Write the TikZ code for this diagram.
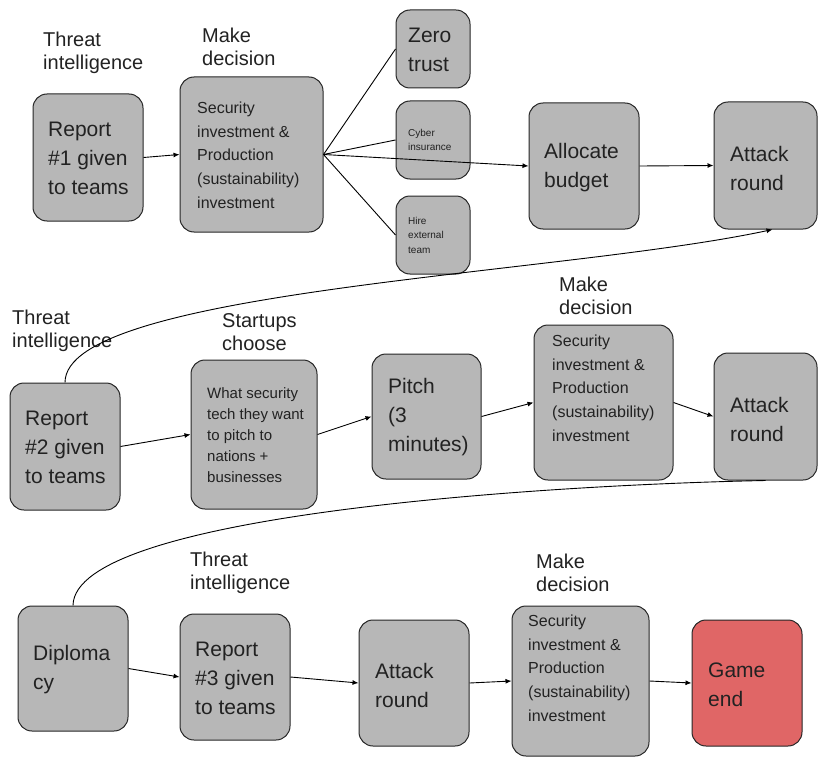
\documentclass[tikz,border=0pt]{standalone}
\usepackage{fontspec}
\setmainfont{Liberation Sans}
\usetikzlibrary{arrows.meta,calc}
\definecolor{boxgray}{HTML}{B7B7B7}
\definecolor{endred}{HTML}{E06666}
\definecolor{ink}{HTML}{222222}
\begin{document}
\begin{tikzpicture}[x=1pt,y=-1pt,
  box/.style={draw=black!85, line width=1pt, fill=boxgray, rounded corners=14pt, inner sep=0pt},
  txt/.style={anchor=west, align=left, inner sep=0pt, text=ink},
  tbig/.style={txt, font=\fontsize{21pt}{29pt}\selectfont},
  tmid/.style={txt, font=\fontsize{16pt}{23.7pt}\selectfont},
  tst/.style={txt, font=\fontsize{15pt}{21pt}\selectfont},
  tsm/.style={txt, font=\fontsize{10pt}{14.5pt}\selectfont},
  tlab/.style={txt, font=\fontsize{20pt}{23.5pt}\selectfont},
  conn/.style={draw=black, line width=0.9pt, -{Latex[length=6pt,width=5pt]}},
  plain/.style={draw=black, line width=0.9pt},
]
\useasboundingbox (0,0) rectangle (818,757);

% ---- row 1 boxes
\node[box, minimum width=110pt, minimum height=127pt] (r1) at (88,157.5) {};
\node[box, minimum width=143pt, minimum height=155pt] (dec1) at (251.5,154.5) {};
\node[box, minimum width=74pt, minimum height=78pt] (zero) at (433,49) {};
\node[box, minimum width=74pt, minimum height=78pt] (cyber) at (433,140) {};
\node[box, minimum width=74pt, minimum height=78pt] (hire) at (433,235) {};
\node[box, minimum width=110pt, minimum height=126pt] (alloc) at (584,166) {};
\node[box, minimum width=103pt, minimum height=127pt] (att1) at (765.5,165.5) {};

% ---- row 2 boxes
\node[box, minimum width=110pt, minimum height=127pt] (r2) at (65,446.5) {};
\node[box, minimum width=126pt, minimum height=149pt] (start) at (254,434.5) {};
\node[box, minimum width=109pt, minimum height=125pt] (pitch) at (426.5,416.5) {};
\node[box, minimum width=139pt, minimum height=155pt] (dec2) at (603.5,402.5) {};
\node[box, minimum width=103pt, minimum height=127pt] (att2) at (765.5,416.5) {};

% ---- row 3 boxes
\node[box, minimum width=110pt, minimum height=125pt] (dipl) at (73,668.5) {};
\node[box, minimum width=110pt, minimum height=126pt] (r3) at (235,677) {};
\node[box, minimum width=110pt, minimum height=126pt] (att3) at (414,683) {};
\node[box, minimum width=137pt, minimum height=150pt] (dec3) at (580.5,681) {};
\node[box, fill=endred, minimum width=110pt, minimum height=126pt] (gend) at (747,683) {};

% ---- box texts
\node[tbig] (r1t) at (48,158) {Report\\\#1 given\\to teams};
\node[tmid] (dec1t) at (197,155) {Security\\investment \&\\Production\\(sustainability)\\investment};
\node[tbig] (zerot) at (408,49.5) {Zero\\trust};
\node[tsm] (cybert) at (408,140) {Cyber\\insurance};
\node[tsm] (hiret) at (408,235) {Hire\\external\\team};
\node[tbig] (alloct) at (544,168) {Allocate\\budget};
\node[tbig] (att1t) at (730,168) {Attack\\round};

\node[tbig] (r2t) at (25,447) {Report\\\#2 given\\to teams};
\node[tst] (startt) at (207,435) {What security\\tech they want\\to pitch to\\nations +\\businesses};
\node[tbig] (pitcht) at (388,417) {Pitch\\(3\\minutes)};
\node[tmid] (dec2t) at (552,388) {Security\\investment \&\\Production\\(sustainability)\\investment};
\node[tbig] (att2t) at (730,419) {Attack\\round};

\node[tbig] (diplt) at (33,670) {Diploma\\cy};
\node[tbig] (r3t) at (195,678) {Report\\\#3 given\\to teams};
\node[tbig] (att3t) at (375,685) {Attack\\round};
\node[tmid] (dec3t) at (528,668) {Security\\investment \&\\Production\\(sustainability)\\investment};
\node[tbig] (gendt) at (708,685) {Game\\end};

% ---- labels
\node[tlab] (ti1) at (43,53) {Threat\\intelligence};
\node[tlab] (md1) at (202,47) {Make\\decision};
\node[tlab] (ti2) at (12,331) {Threat\\intelligence};
\node[tlab] (sc) at (222,332) {Startups\\choose};
\node[tlab] (md2) at (559,296) {Make\\decision};
\node[tlab] (ti3) at (190,573) {Threat\\intelligence};
\node[tlab] (md3) at (536,573) {Make\\decision};

% ---- connectors row 1
\draw[conn] (r1.east) -- (dec1.west);
\draw[plain] (dec1.east) -- (zero.west);
\draw[plain] (dec1.east) -- (cyber.west);
\draw[plain] (dec1.east) -- (hire.west);
\draw[conn] (dec1.east) -- (alloc.west);
\draw[conn] (alloc.east) -- (att1.west);

% ---- connectors row 2
\draw[conn] (r2.east) -- (start.west);
\draw[conn] (start.east) -- (pitch.west);
\draw[conn] (pitch.east) -- (dec2.west);
\draw[conn] (dec2.east) -- (att2.west);

% ---- connectors row 3
\draw[conn] (dipl.east) -- (r3.west);
\draw[conn] (r3.east) -- (att3.west);
\draw[conn] (att3.east) -- (dec3.west);
\draw[conn] (dec3.east) -- (gend.west);

% ---- curved links between rows
\draw[conn] (r2.north) .. controls (65,290) and (560,275) .. ([xshift=7pt]att1.south);
\draw[plain] (dipl.north) .. controls (74,515) and (540,485) .. (att2.south);
\end{tikzpicture}
\end{document}
